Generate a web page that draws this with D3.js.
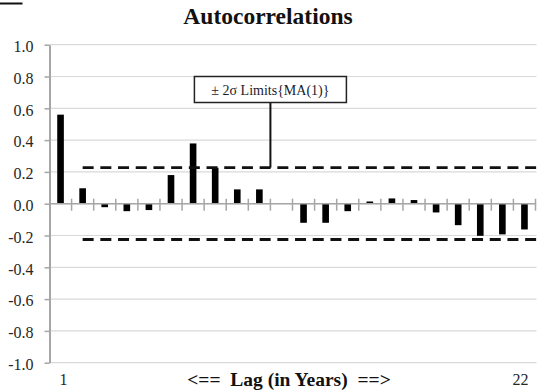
<!DOCTYPE html>
<html><head><meta charset="utf-8">
<script src="https://cdn.jsdelivr.net/npm/d3@7"></script>
<style>html,body{margin:0;padding:0;background:#fff;}svg{display:block;}</style>
</head><body>
<svg id="chart" width="544" height="391"></svg>
<script>
// ---- data ----
const lags = d3.range(1, 23);
const acf = [0.56, 0.097, -0.022, -0.047, -0.04, 0.18, 0.379, 0.226, 0.09, 0.09,
             0.0, -0.12, -0.12, -0.047, 0.014, 0.033, 0.023, -0.055, -0.135, -0.202, -0.193, -0.162];
const yTicks = [-1.0, -0.8, -0.6, -0.4, -0.2, 0.0, 0.2, 0.4, 0.6, 0.8, 1.0];
const xTickLabels = [{lag: 1, text: "1"}, {lag: 22, text: "22"}];
const limitLags = [2, 22.7];
const upperLimit = 0.227;
const lowerLimit = -0.225;
const annotationLag = 10.5;
const annotationText = "\u00B1 2\u03C3 Limits{MA(1)}";
const titleText = "Autocorrelations";
const xAxisTitle = "<==  Lag (in Years)  ==>";

// ---- layout ----
const L = 49.5, R = 535.5, T = 44.7, B = 362.7;
const svg = d3.select("#chart");
const FONT = '"Liberation Serif"';

const x = d3.scaleBand().domain(lags).range([L, R]).padding(0);
const xl = d3.scaleLinear().domain([0.5, 22.5]).range([L, R]);
const y = d3.scaleLinear().domain([-1, 1]).range([B, T]);

// small artifact at top-left
svg.append("rect").attr("x", 0).attr("y", 2.5).attr("width", 22.5).attr("height", 2).attr("fill", "#111");

// title
svg.append("text").attr("x", 268).attr("y", 24).attr("text-anchor", "middle")
  .style("font-family", FONT).style("font-weight", "bold").style("font-size", "23.5px")
  .attr("fill", "#111").text(titleText);

// gridlines
svg.append("g").selectAll("line").data(yTicks).join("line")
  .attr("x1", L).attr("x2", R + 1).attr("y1", d => y(d)).attr("y2", d => y(d))
  .attr("stroke", "#d9d9d9").attr("stroke-width", 1.2);

// y axis
const yAxis = svg.append("g").attr("transform", `translate(${L},0)`)
  .call(d3.axisLeft(y).tickValues(yTicks).tickSize(5).tickSizeOuter(0).tickPadding(11)
    .tickFormat(d => d.toFixed(1)));
yAxis.select(".domain").attr("stroke", "#a6a6a6").attr("stroke-width", 2);
yAxis.selectAll(".tick line").attr("stroke", "#a6a6a6").attr("stroke-width", 1.5);
yAxis.selectAll(".tick text").style("font-family", FONT).style("font-size", "16px")
  .attr("fill", "#262626").attr("dy", "0.42em");

// bars
const bw = x.bandwidth() * 0.3;
svg.append("g").selectAll("rect").data(lags).join("rect")
  .attr("x", (d) => x(d) + x.bandwidth() / 2 - bw / 2)
  .attr("width", bw)
  .attr("y", (d, i) => y(Math.max(0, acf[i])))
  .attr("height", (d, i) => Math.abs(y(acf[i]) - y(0)))
  .attr("fill", "#000");

// x axis line at zero with cross ticks
svg.append("line").attr("x1", L).attr("x2", R).attr("y1", y(0)).attr("y2", y(0))
  .attr("stroke", "#a6a6a6").attr("stroke-width", 1.5);
svg.append("g").selectAll("line").data(lags).join("line")
  .attr("x1", d => x(d) + x.bandwidth()).attr("x2", d => x(d) + x.bandwidth())
  .attr("y1", y(0) - 5).attr("y2", y(0) + 7)
  .attr("stroke", "#a6a6a6").attr("stroke-width", 1.5);

// x labels
svg.append("g").selectAll("text").data(xTickLabels).join("text")
  .attr("x", d => x(d.lag) + x.bandwidth() / 2 + (d.lag === 1 ? 3 : -4))
  .attr("y", 385).attr("text-anchor", "middle")
  .style("font-family", FONT).style("font-size", "16px").attr("fill", "#262626").text(d => d.text);
svg.append("text").attr("x", 289).attr("y", 386).attr("text-anchor", "middle")
  .style("font-family", FONT).style("font-weight", "bold").style("font-size", "19.5px")
  .attr("fill", "#111").style("white-space", "pre").text(xAxisTitle);

// limit lines
[upperLimit, lowerLimit].forEach(v => {
  svg.append("line")
    .attr("x1", xl(limitLags[0])).attr("x2", xl(limitLags[1]))
    .attr("y1", y(v)).attr("y2", y(v))
    .attr("stroke", "#111").attr("stroke-width", 2.8).attr("stroke-dasharray", "11,6.7");
});

// annotation
const ax = xl(annotationLag);
const boxW = 152, boxH = 26;
const boxTop = y(0.8);
svg.append("path")
  .attr("d", `M${ax},${boxTop + boxH}V${y(upperLimit)}`)
  .attr("stroke", "#111").attr("stroke-width", 2).attr("fill", "none");
svg.append("rect").attr("x", ax - boxW / 2).attr("y", boxTop).attr("width", boxW).attr("height", boxH)
  .attr("fill", "#fff").attr("stroke", "#222").attr("stroke-width", 1.5);
svg.append("text").attr("x", ax).attr("y", boxTop + boxH / 2 + 5).attr("text-anchor", "middle")
  .style("font-family", FONT).style("font-size", "14px").attr("fill", "#1a1a2e").text(annotationText);
</script>
</body></html>
